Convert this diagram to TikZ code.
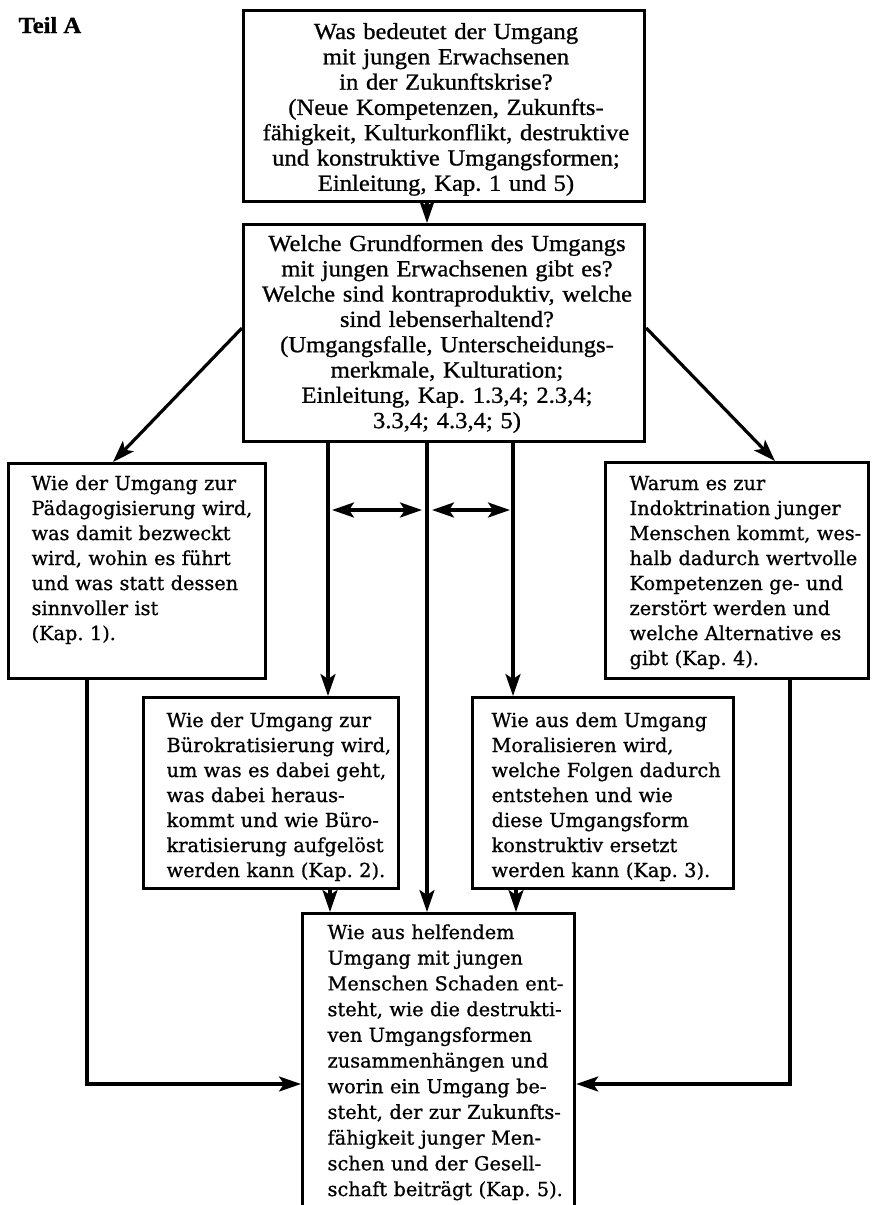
\documentclass[tikz,border=0pt]{standalone}
\usepackage{fontspec}
\usetikzlibrary{arrows.meta}
\newfontfamily\headfont[FakeStretch=1.07,FakeBold=0.9]{Liberation Serif}
\newfontfamily\bodyfont[FakeBold=0.9]{DejaVu Serif}
\frenchspacing

\begin{document}
\begin{tikzpicture}[x=1pt,y=-1pt,
  line width=3.2pt,
  >={Stealth[length=22pt,width=15pt,inset=5pt]},
  box/.style={draw, rectangle, inner sep=0pt, anchor=north west},
  headtext/.style={inner sep=0pt, text width=400pt, align=center, anchor=base,
    font=\headfont\fontsize{23}{25.3}\selectfont},
  bodytext/.style={inner sep=0pt, text width=255pt, align=left, anchor=base west,
    font=\bodyfont\fontsize{19.3}{25}\selectfont},
]
\useasboundingbox (0,0) rectangle (874,1205);
\fill[white] (0,0) rectangle (874,1205);
\clip (0,0) rectangle (874,1205);

% section label
\node[anchor=base west, inner sep=0pt, font=\headfont\bfseries\fontsize{23}{24}\selectfont] (teil) at (17,33) {Teil A};

% boxes
\node[box, minimum width=401pt, minimum height=191pt] (q1)  at (242,9)   {};
\node[box, minimum width=401pt, minimum height=217pt] (q2)  at (242,223) {};
\node[box, minimum width=257pt, minimum height=215pt] (pad) at (7,462)   {};
\node[box, minimum width=263pt, minimum height=216pt] (ind) at (604,461) {};
\node[box, minimum width=255pt, minimum height=191pt] (bur) at (142,696) {};
\node[box, minimum width=261pt, minimum height=191pt] (mor) at (471,696) {};
\node[box, minimum width=272pt, minimum height=310pt] (fin) at (301,912) {};

% box texts
\node[headtext] (q1t) at (446,39) {Was bedeutet der Umgang\\
mit jungen Erwachsenen\\
in der Zukunftskrise?\\
(Neue Kompetenzen, Zukunfts-\\
fähigkeit, Kulturkonflikt, destruktive\\
und konstruktive Umgangsformen;\\
Einleitung, Kap. 1 und 5)};

\node[headtext] (q2t) at (447,251) {Welche Grundformen des Umgangs\\
mit jungen Erwachsenen gibt es?\\
Welche sind kontraproduktiv, welche\\
sind lebenserhaltend?\\
(Umgangsfalle, Unterscheidungs-\\
merkmale, Kulturation;\\
Einleitung, Kap. 1.3,4; 2.3,4;\\
3.3,4; 4.3,4; 5)};

\node[bodytext] (padt) at (30,490) {Wie der Umgang zur\\
Pädagogisierung wird,\\
was damit bezweckt\\
wird, wohin es führt\\
und was statt dessen\\
sinnvoller ist\\
(Kap. 1).};

\node[bodytext] (indt) at (628,490) {Warum es zur\\
Indoktrination junger\\
Menschen kommt, wes-\\
halb dadurch wertvolle\\
Kompetenzen ge- und\\
zerstört werden und\\
welche Alternative es\\
gibt (Kap. 4).};

\node[bodytext] (burt) at (165,727) {Wie der Umgang zur\\
Bürokratisierung wird,\\
um was es dabei geht,\\
was dabei heraus-\\
kommt und wie Büro-\\
kratisierung aufgelöst\\
werden kann (Kap. 2).};

\node[bodytext] (mort) at (490,727) {Wie aus dem Umgang\\
Moralisieren wird,\\
welche Folgen dadurch\\
entstehen und wie\\
diese Umgangsform\\
konstruktiv ersetzt\\
werden kann (Kap. 3).};

\node[bodytext, font=\bodyfont\fontsize{19.3}{25.7}\selectfont] (fint) at (326,939) {Wie aus helfendem\\
Umgang mit jungen\\
Menschen Schaden ent-\\
steht, wie die destrukti-\\
ven Umgangsformen\\
zusammenhängen und\\
worin ein Umgang be-\\
steht, der zur Zukunfts-\\
fähigkeit junger Men-\\
schen und der Gesell-\\
schaft beiträgt (Kap. 5).};

% guide positions for the connectors
\coordinate (xA) at (427,0);
\coordinate (xB) at (328,0);
\coordinate (xC) at (513,0);
\coordinate (xB2) at (330,0);
\coordinate (xC2) at (516,0);
\coordinate (xL) at (113,0);
\coordinate (xR) at (775,0);
\coordinate (yD) at (0,328);
\coordinate (xP) at (87,0);
\coordinate (xQ) at (790,0);
\coordinate (yS) at (0,1084);
\coordinate (h1a) at (332,510);
\coordinate (h1b) at (422,510);
\coordinate (h2a) at (432,510);
\coordinate (h2b) at (510,510);

% connectors
\draw[->] (q1.south -| xA) -- (q2.north -| xA);
\draw[->] (q2.west |- yD) -- (pad.north -| xL);
\draw[->] (q2.east |- yD) -- (ind.north -| xR);
\draw[->] (q2.south -| xB) -- (bur.north -| xB);
\draw[->] (q2.south -| xC) -- (mor.north -| xC);
\draw[->] (q2.south -| xA) -- (fin.north -| xA);
\draw[->] (bur.south -| xB2) -- (fin.north -| xB2);
\draw[->] (mor.south -| xC2) -- (fin.north -| xC2);
\draw[->] (pad.south -| xP) |- (fin.west |- yS);
\draw[->] (ind.south -| xQ) |- (fin.east |- yS);
\draw[<->] (h1a) -- (h1b);
\draw[<->] (h2a) -- (h2b);
\end{tikzpicture}
\end{document}
